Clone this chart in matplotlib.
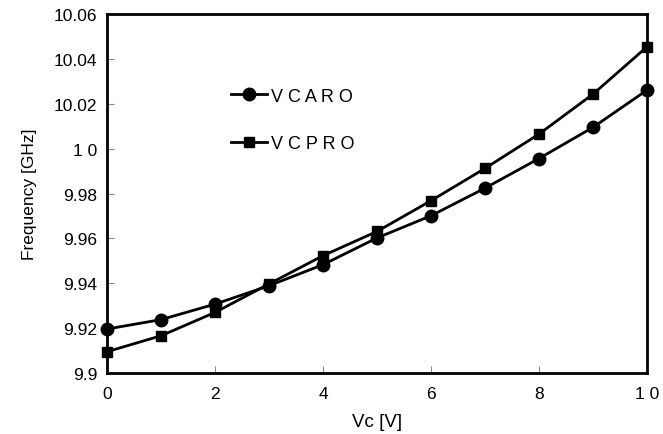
import matplotlib
matplotlib.use('Agg')
import matplotlib.pyplot as plt

# data
vc = [0, 1, 2, 3, 4, 5, 6, 7, 8, 9, 10]
vcaro = [9.9196, 9.9238, 9.9307, 9.9389, 9.9483, 9.9602, 9.9701, 9.9824, 9.9956, 10.0095, 10.0261]
vcpro = [9.9095, 9.9166, 9.9270, 9.9397, 9.9523, 9.9631, 9.9768, 9.9912, 10.0065, 10.0243, 10.0454]

xticks = [0, 2, 4, 6, 8, 10]
xlabels = ['0', '2', '4', '6', '8', '1 0']
yticks = [9.9, 9.92, 9.94, 9.96, 9.98, 10.0, 10.02, 10.04, 10.06]
ylabels = ['9.9', '9.92', '9.94', '9.96', '9.98', '1 0', '10.02', '10.04', '10.06']

plt.rcParams['font.family'] = ['Liberation Sans', 'DejaVu Sans']

fig = plt.figure(figsize=(6.63, 4.35), dpi=100)
ax = fig.add_axes([0.1614, 0.1402, 0.8145, 0.8253])

ax.plot(vc, vcaro, color='black', lw=2, marker='o', ms=9, label='V C A R O', clip_on=False, zorder=3)
ax.plot(vc, vcpro, color='black', lw=2, marker='s', ms=7.5, label='V C P R O', clip_on=False, zorder=3)

ax.set_xlim(0, 10)
ax.set_ylim(9.9, 10.06)
ax.set_xticks(xticks)
ax.set_xticklabels(xlabels)
ax.set_yticks(yticks)
ax.set_yticklabels(ylabels)
ax.tick_params(direction='in', length=5, width=0.8, color='#888888', labelsize=12.5)
ax.tick_params(axis='x', pad=9)
ax.tick_params(axis='y', pad=7)

for s in ax.spines.values():
    s.set_linewidth(2)

ax.set_xlabel('Vc [V]', fontsize=13.5, labelpad=9)
ax.set_ylabel('Frequency [GHz]', fontsize=12.5, labelpad=12)

ax.legend(loc='upper left', bbox_to_anchor=(0.20, 0.84), frameon=False, fontsize=13,
          handlelength=2.0, handletextpad=0.2, labelspacing=1.7)

fig.savefig('out.png', dpi=100)
